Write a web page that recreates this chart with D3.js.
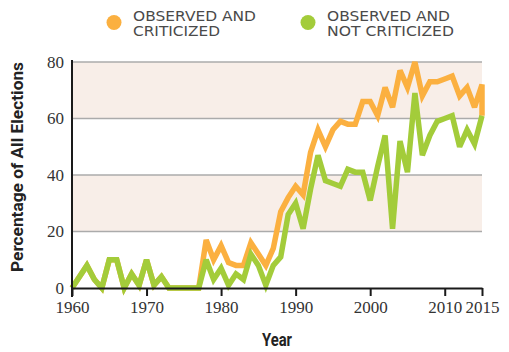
<!DOCTYPE html>
<html>
<head>
<meta charset="utf-8">
<script src="https://cdn.jsdelivr.net/npm/d3@7"></script>
<style>
  html, body { margin: 0; padding: 0; background: #ffffff; }
  svg { display: block; }
</style>
</head>
<body>
<div id="chart"></div>
<script>
// ---- Data ----
const years = [
  1960, 1961, 1962, 1963, 1964, 1965, 1966, 1967, 1968, 1969,
  1970, 1971, 1972, 1973, 1974, 1975, 1976, 1977, 1978, 1979,
  1980, 1981, 1982, 1983, 1984, 1985, 1986, 1987, 1988, 1989,
  1990, 1991, 1992, 1993, 1994, 1995, 1996, 1997, 1998, 1999,
  2000, 2001, 2002, 2003, 2004, 2005, 2006, 2007, 2008, 2009,
  2010, 2011, 2012, 2013, 2014, 2015, 2015
];
const notCriticized = [
  0, 4, 8, 3, 0, 10, 10, 0, 5, 1,
  10, 1, 4, 0, 0, 0, 0, 0, 10, 3,
  7, 1, 5, 3, 12, 8, 1, 8, 11, 26,
  30, 21, 35, 47, 38, 37, 36, 42, 41, 41,
  31, 43, 54, 21, 52, 41, 69, 47, 54, 59,
  60, 61, 50, 56, 51, 61, 61
];
const criticized = [
  0, 4, 8, 3, 0, 10, 10, 0, 5, 1,
  10, 1, 4, 0, 0, 0, 0, 0, 17, 10,
  15, 9, 8, 8, 16, 12, 8, 14, 27, 32,
  36, 33, 48, 56, 50, 56, 59, 58, 58, 66,
  66, 61, 71, 64, 77, 71, 80, 68, 73, 73,
  74, 75, 68, 71, 64, 72, 61
];
const xTicks = [1960, 1970, 1980, 1990, 2000, 2010, 2015];
const yTicks = [0, 20, 40, 60, 80];
const bands = [[20, 40], [60, 80]];
const seriesNames = ["OBSERVED AND|CRITICIZED", "OBSERVED AND|NOT CRITICIZED"];

// ---- Layout ----
const W = 509, H = 352;
const colOrange = "#fbb040";
const colGreen = "#a3cc3a";

const svg = d3.select("#chart").append("svg")
  .attr("width", W).attr("height", H);

const x = d3.scaleLinear().domain([1960, 2015]).range([72, 482]);
const y = d3.scaleLinear().domain([0, 80]).range([288, 62]);

// bands
svg.append("g").selectAll("rect").data(bands).join("rect")
  .attr("x", x(1960)).attr("width", x(2015) - x(1960))
  .attr("y", d => y(d[1])).attr("height", d => y(d[0]) - y(d[1]))
  .attr("fill", "#f8eee8");

// gridlines
svg.append("g").selectAll("line").data(yTicks.filter(d => d > 0)).join("line")
  .attr("x1", x(1960)).attr("x2", x(2015))
  .attr("y1", d => y(d)).attr("y2", d => y(d))
  .attr("stroke", "#ababab").attr("stroke-width", 1.6);

// lines
const line = (vals) => d3.line()
  .x((d, i) => x(years[i]))
  .y(d => y(d))(vals);

svg.append("path").attr("d", line(criticized))
  .attr("fill", "none").attr("stroke", colOrange)
  .attr("stroke-width", 5.5).attr("stroke-linejoin", "miter").attr("stroke-miterlimit", 3);
svg.append("path").attr("d", line(notCriticized))
  .attr("fill", "none").attr("stroke", colGreen)
  .attr("stroke-width", 5.5).attr("stroke-linejoin", "miter").attr("stroke-miterlimit", 3);

// axes
const xAxis = svg.append("g").attr("transform", `translate(0,${y(0)})`)
  .call(d3.axisBottom(x).tickValues(xTicks).tickFormat(d3.format("d"))
    .tickSize(8).tickSizeOuter(0).tickPadding(5));
xAxis.select(".domain").attr("stroke", "#1a1a1a").attr("stroke-width", 2);
xAxis.selectAll(".tick line").attr("stroke", "#1a1a1a").attr("stroke-width", 2);
xAxis.selectAll(".tick text")
  .attr("font-family", "'Liberation Serif', 'DejaVu Serif', serif")
  .attr("font-size", 17).attr("fill", "#333");

const yAxis = svg.append("g").attr("transform", `translate(${x(1960)},0)`)
  .call(d3.axisLeft(y).tickValues(yTicks).tickSize(0).tickSizeOuter(0).tickPadding(8));
yAxis.select(".domain").attr("stroke", "#1a1a1a").attr("stroke-width", 2)
  .attr("d", `M0,${y(0) + 9}V${y(80) - 2}`);
yAxis.selectAll(".tick text")
  .attr("font-family", "'Liberation Serif', 'DejaVu Serif', serif")
  .attr("font-size", 17).attr("fill", "#333");

// axis titles
svg.append("text")
  .attr("transform", `translate(23,${(62 + 272) / 2}) rotate(-90)`)
  .attr("text-anchor", "middle")
  .attr("font-family", "'Liberation Sans Narrow', 'Roboto', 'Liberation Sans', sans-serif")
  .attr("font-weight", "bold").attr("font-size", 17).attr("fill", "#222")
  .attr("textLength", 210).attr("lengthAdjust", "spacingAndGlyphs")
  .text("Percentage of All Elections");

svg.append("text")
  .attr("x", 277).attr("y", 346)
  .attr("text-anchor", "middle")
  .attr("font-family", "'Liberation Sans Narrow', 'Roboto', 'Liberation Sans', sans-serif")
  .attr("font-weight", "bold").attr("font-size", 18).attr("fill", "#222")
  .attr("textLength", 30).attr("lengthAdjust", "spacingAndGlyphs")
  .text("Year");

// legend
const legendItems = [
  { name: seriesNames[0], color: colOrange, cx: 114, tx: 133, w: [123, 87] },
  { name: seriesNames[1], color: colGreen, cx: 308, tx: 327, w: [123, 127] }
];
const lg = svg.append("g");
legendItems.forEach(it => {
  lg.append("circle").attr("cx", it.cx).attr("cy", 22.5).attr("r", 7.5).attr("fill", it.color);
  it.name.split("|").forEach((t, i) => {
    lg.append("text")
      .attr("x", it.tx).attr("y", 20.5 + i * 15.5)
      .attr("font-family", "'DejaVu Sans', 'Liberation Sans', sans-serif")
      .attr("font-size", 14).attr("fill", "#4a4a4a")
      .attr("textLength", it.w[i]).attr("lengthAdjust", "spacingAndGlyphs")
      .text(t);
  });
});
</script>
</body>
</html>
